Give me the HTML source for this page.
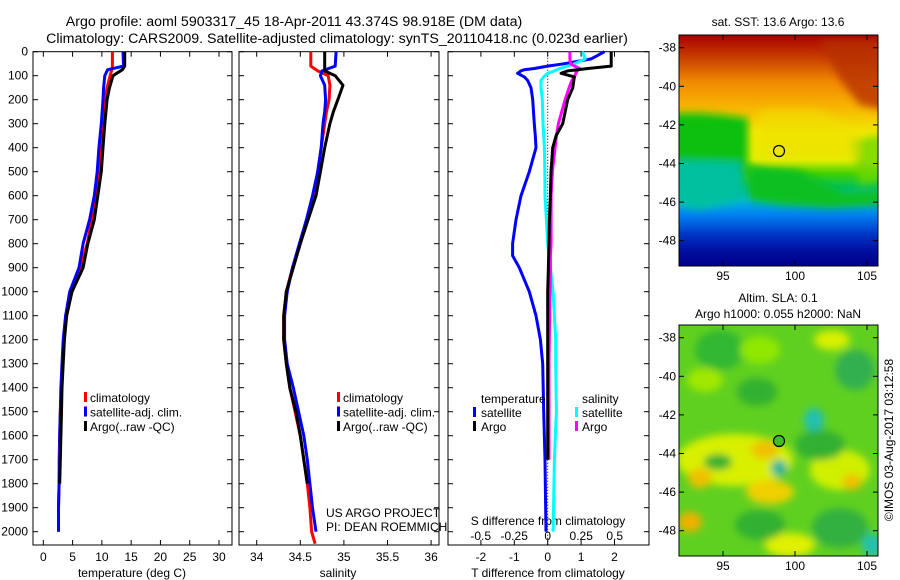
<!DOCTYPE html>
<html><head><meta charset="utf-8"><style>
body{margin:0;background:#fff;}
svg{display:block;font-family:"Liberation Sans",sans-serif;}
text{fill:#000;}
</style></head><body>
<svg id="c" width="900" height="580" viewBox="0 0 900 580">
<defs>
<linearGradient id="sstg" x1="0" y1="0" x2="0" y2="1">
<stop offset="0" stop-color="#a80000"/><stop offset="0.1" stop-color="#c84000"/><stop offset="0.2" stop-color="#f08800"/>
<stop offset="0.32" stop-color="#f8b800"/><stop offset="0.42" stop-color="#f0e800"/><stop offset="0.54" stop-color="#e0f000"/>
<stop offset="0.6" stop-color="#40d000"/><stop offset="0.66" stop-color="#00c060"/><stop offset="0.71" stop-color="#00b8e0"/>
<stop offset="0.78" stop-color="#0080f0"/><stop offset="0.86" stop-color="#0038c8"/><stop offset="0.93" stop-color="#0010a0"/>
<stop offset="1" stop-color="#000088"/></linearGradient>
<filter id="bl" x="-0.2" y="-0.2" width="1.4" height="1.4"><feGaussianBlur stdDeviation="4"/></filter>
<clipPath id="m1"><rect x="679" y="35" width="199" height="231"/></clipPath>
<clipPath id="m2"><rect x="679" y="325" width="199" height="231"/></clipPath>
</defs>
<text x="294" y="26" text-anchor="middle" font-size="14.2">Argo profile: aoml 5903317_45 18-Apr-2011 43.374S 98.918E (DM data)</text>
<text x="337" y="43" text-anchor="middle" font-size="14.2">Climatology: CARS2009. Satellite-adjusted climatology: synTS_20110418.nc (0.023d earlier)</text>
<g id="plots"></g>
<g>
<g clip-path="url(#m1)">
<rect x="679" y="35" width="199" height="231" fill="url(#sstg)"/>
<g filter="url(#bl)">
<path d="M670 113 L700 113 L725 115 L748 118 L748 160 L745 180 L700 190 L670 190Z" fill="#10c010"/>
<path d="M675 160 L740 162 L745 200 L700 210 L675 205Z" fill="#00c0a0"/>
<path d="M748 165 L800 170 L820 182 L845 192 L885 190 L885 205 L830 208 L780 205 L748 200Z" fill="#10c020"/>
<path d="M820 40 L885 40 L885 110 L860 105 L840 80Z" fill="#b83000" opacity="0.8"/>
<path d="M850 140 L885 135 L885 180 L860 185Z" fill="#70d800" opacity="0.8"/>
<path d="M760 110 L820 110 L860 130 L860 160 L760 160Z" fill="#f0e000" opacity="0.6"/>
</g>
</g>
<rect x="679" y="35" width="199" height="231" fill="none" stroke="#000"/>
<circle cx="779" cy="151" r="5.5" fill="none" stroke="#000" stroke-width="1.2"/>
<text x="778" y="26" text-anchor="middle" font-size="12">sat. SST: 13.6 Argo: 13.6</text>
</g>
<g>
<g clip-path="url(#m2)">
<rect x="679" y="325" width="199" height="231" fill="#60d020"/>
<g filter="url(#bl)">
<ellipse cx="720" cy="350" rx="25" ry="20" fill="#30b830"/>
<ellipse cx="757" cy="392" rx="20" ry="14" fill="#30b030"/>
<ellipse cx="760" cy="350" rx="20" ry="14" fill="#90e800"/>
<ellipse cx="832" cy="340" rx="18" ry="10" fill="#d8f000"/>
<ellipse cx="705" cy="380" rx="18" ry="12" fill="#a0e800"/>
<ellipse cx="855" cy="370" rx="20" ry="20" fill="#30b050"/>
<ellipse cx="735" cy="460" rx="58" ry="26" fill="#d8f000"/>
<ellipse cx="765" cy="450" rx="14" ry="9" fill="#f0c000"/>
<ellipse cx="700" cy="478" rx="12" ry="10" fill="#f0c000"/>
<ellipse cx="770" cy="492" rx="24" ry="12" fill="#f0d000"/>
<ellipse cx="840" cy="470" rx="30" ry="20" fill="#d0f000"/>
<ellipse cx="852" cy="482" rx="10" ry="8" fill="#f0c000"/>
<ellipse cx="690" cy="522" rx="12" ry="10" fill="#f0b000"/>
<ellipse cx="790" cy="545" rx="25" ry="12" fill="#e0f000"/>
<ellipse cx="814" cy="420" rx="10" ry="12" fill="#20c0b0"/>
<ellipse cx="779" cy="468" rx="8" ry="8" fill="#20b0a0"/>
<ellipse cx="872" cy="545" rx="10" ry="12" fill="#20c0b0"/>
<ellipse cx="718" cy="462" rx="14" ry="8" fill="#30b030"/>
<ellipse cx="840" cy="528" rx="28" ry="20" fill="#30b040"/>
<ellipse cx="760" cy="525" rx="25" ry="15" fill="#30b030"/>
<ellipse cx="820" cy="445" rx="25" ry="15" fill="#30b030"/>
</g>
</g>
<rect x="679" y="325" width="199" height="231" fill="none" stroke="#000"/>
<circle cx="779" cy="441" r="5.5" fill="#40c020" stroke="#000" stroke-width="1.2"/>
<text x="778" y="302" text-anchor="middle" font-size="12">Altim. SLA: 0.1</text>
<text x="778" y="318" text-anchor="middle" font-size="12">Argo h1000: 0.055 h2000: NaN</text>
</g>
<text transform="translate(893,440) rotate(-90)" text-anchor="middle" font-size="12">©IMOS 03-Aug-2017 03:12:58</text>
<text x="326" y="517" font-size="12">US ARGO PROJECT</text>
<text x="326" y="531" font-size="12">PI: DEAN ROEMMICH</text>
</svg>
<script>
// depth grids (m)
const tDepth = [0,60,75,100,150,200,300,400,500,600,700,800,900,1000,1100,1200,1300,1400,1500,1600,1700,1800,1900,2000];
const tClim  = [11.8,11.8,11.7,11.4,10.9,10.5,10.2,9.9,9.6,9.0,8.3,7.5,6.3,4.8,3.9,3.5,3.3,3.1,2.9,2.8,2.7,2.7,2.6,2.6];
const tSat   = [13.6,13.7,11.0,10.5,10.3,10.2,9.9,9.5,9.2,8.7,7.9,6.8,6.1,4.5,3.8,3.4,3.2,3.0,2.9,2.8,2.8,2.7,2.6,2.6];
const tArgo  = [13.9,13.9,13.5,11.9,11.3,10.9,10.5,10.2,9.9,9.3,8.7,7.6,6.8,4.9,4.0,3.6,3.4,3.2,3.1,3.0,2.9,2.8];
const sDepth = [0,60,80,100,140,200,250,300,400,500,600,700,800,900,1000,1100,1200,1300,1400,1500,1600,1700,1800,1900,2000,2050];
const sClim  = [34.62,34.62,34.70,34.82,34.84,34.83,34.80,34.78,34.74,34.70,34.66,34.58,34.50,34.41,34.34,34.31,34.31,34.34,34.38,34.44,34.50,34.54,34.58,34.61,34.63,34.67];
const sSat   = [34.91,34.90,34.75,34.73,34.78,34.79,34.78,34.76,34.74,34.70,34.64,34.57,34.49,34.41,34.35,34.32,34.32,34.35,34.42,34.48,34.54,34.58,34.61,34.64,34.68];
const sArgo  = [34.78,34.78,34.78,34.90,34.99,34.93,34.88,34.84,34.78,34.73,34.68,34.59,34.50,34.42,34.34,34.31,34.31,34.34,34.38,34.45,34.50,34.54,34.58];
const dDepth = [0,30,50,60,70,75,80,90,105,120,150,200,300,350,400,500,600,700,800,850,900,1000,1100,1200,1300,1500,1700,2000];
const dTsat  = [1.7,1.3,0.5,0.0,-0.4,-0.7,-0.8,-0.9,-0.7,-0.6,-0.5,-0.45,-0.4,-0.37,-0.35,-0.55,-0.8,-0.95,-1.05,-1.05,-0.85,-0.55,-0.35,-0.22,-0.15,-0.12,-0.08,-0.05];
const dTargo = [1.9,1.9,1.9,1.9,1.2,0.9,0.6,0.4,0.8,0.78,0.75,0.6,0.45,0.25,0.15,0.1,0.08,0.05,0.04,0.03,0.02,0.0,0.0,0.0,0.0,0.0,0.0];
const dSsat  = [0.26,0.28,0.2,0.15,0.09,0.07,0.05,0.0,-0.03,-0.05,-0.05,-0.04,-0.035,-0.03,-0.025,-0.022,-0.02,-0.01,0.0,0.01,0.02,0.04,0.05,0.06,0.06,0.065,0.05,0.04];
const dSargo = [0.166,0.166,0.17,0.2,0.24,0.23,0.22,0.21,0.2,0.18,0.16,0.13,0.08,0.065,0.055,0.035,0.025,0.025,0.025,0.02,0.02,0.018,0.015,0.012,0.01,0.01,0.01];
const depthTicks = [0,100,200,300,400,500,600,700,800,900,1000,1100,1200,1300,1400,1500,1600,1700,1800,1900,2000];
const tTicks = [0,5,10,15,20,25,30];
const sTicks = [34,34.5,35,35.5,36];
const dtTicks = [-2,-1,0,1,2];
const dsTicks = [-0.5,-0.25,0,0.25,0.5];
const latTicks = [-38,-40,-42,-44,-46,-48];
const lonTicks = [95,100,105];

const NS='http://www.w3.org/2000/svg';
const G=document.getElementById('plots');
const svg=document.getElementById('c');
function mk(tag,at,parent){const e=document.createElementNS(NS,tag);for(const k in at)e.setAttribute(k,at[k]);(parent||G).appendChild(e);return e;}
const Y0=51.7, YK=0.24, YB=545;
const yD=d=>Y0+d*YK;
const xT=v=>43.3+v*5.857;
const xS=v=>256.7+(v-34)*87.2;
const xDT=v=>547.7+v*33.4;
const xDS=v=>547.7+v*134;
function frame(x0,x1,name){
  const r=mk('rect',{x:x0,y:Y0,width:x1-x0,height:YB-Y0,fill:'none',stroke:'#000'});
  
  
  depthTicks.forEach(d=>{mk('line',{x1:x0,x2:x0+5,y1:yD(d),y2:yD(d),stroke:'#000'});mk('line',{x1:x1-5,x2:x1,y1:yD(d),y2:yD(d),stroke:'#000'});});
}
function line(xs,ds,fx,color,name){
  let p='';
  xs.forEach((v,i)=>{p+=(i?'L':'M')+fx(v).toFixed(1)+' '+yD(ds[i]).toFixed(1);});
  const e=mk('path',{d:p,fill:'none',stroke:color,'stroke-width':3,'stroke-linejoin':'round'});
  
  
}
function txt(x,y,s,anchor,name,size){
  const e=mk('text',{x:x,y:y,'text-anchor':anchor||'start','font-size':size||12});
  e.textContent=s;
  
  
  return e;
}
function xticks(vals,fx,y,name,lblY,labels){
  vals.forEach((v,i)=>{
    const x=fx(v);
    mk('line',{x1:x,x2:x,y1:Y0,y2:Y0+5,stroke:'#000'});
    mk('line',{x1:x,x2:x,y1:YB-5,y2:YB,stroke:'#000'});
    txt(x,lblY,labels?labels[i]:String(v),'middle',name);
  });
}
// panel 1
frame(33,232,'temperature-panel');
depthTicks.forEach(d=>txt(28,yD(d)+4,String(d),'end','depth-tick-label'));
xticks(tTicks,xT,0,'temperature-tick-label',561);
txt(132,577,'temperature (deg C)','middle','temperature-axis-title');
line(tClim,tDepth.slice(0,tClim.length),xT,'#ff0000','temperature-climatology-line');
line(tSat,tDepth.slice(0,tSat.length),xT,'#0000ff','temperature-satellite-line');
line(tArgo,tDepth.slice(0,tArgo.length),xT,'#000000','temperature-argo-line');
// panel 2
frame(239,439,'salinity-panel');
xticks(sTicks,xS,0,'salinity-tick-label',561);
txt(338,577,'salinity','middle','salinity-axis-title');
line(sClim,sDepth.slice(0,sClim.length),xS,'#ff0000','salinity-climatology-line');
line(sSat,sDepth.slice(0,sSat.length),xS,'#0000ff','salinity-satellite-line');
line(sArgo,sDepth.slice(0,sArgo.length),xS,'#000000','salinity-argo-line');
// legends
[[84,'climatology','#ff0000'],[98,'satellite-adj. clim.','#0000ff'],[112,'Argo(..raw -QC)','#000']].forEach((r,i)=>{
  [[84,90],[337,343]].forEach(p=>{
    mk('rect',{x:p[0],y:392+i*14.5,width:3,height:10,fill:r[2]});
    txt(p[1],402+i*14.5,r[1],'start','legend-entry');
  });
});
// panel 3
frame(448,649,'difference-panel');
mk('line',{x1:547.7,x2:547.7,y1:Y0,y2:YB,stroke:'#000','stroke-dasharray':'1,2'});
dtTicks.forEach(v=>{const x=xDT(v);mk('line',{x1:x,x2:x,y1:Y0,y2:Y0+5,stroke:'#000'});mk('line',{x1:x,x2:x,y1:YB-5,y2:YB,stroke:'#000'});txt(x,561,String(v),'middle','t-diff-tick-label');});
dsTicks.forEach(v=>txt(xDS(v),540,String(v),'middle','s-diff-tick-label'));
txt(548,525,'S difference from climatology','middle','s-diff-axis-title');
txt(548,577,'T difference from climatology','middle','t-diff-axis-title');
line(dTsat,dDepth.slice(0,dTsat.length),xDT,'#0000ff','t-diff-satellite-line');
line(dSsat,dDepth.slice(0,dSsat.length),xDS,'#00ffff','s-diff-satellite-line');
line(dSargo,dDepth.slice(0,dSargo.length),xDS,'#ff00ff','s-diff-argo-line');
line(dTargo,dDepth.slice(0,dTargo.length),xDT,'#000000','t-diff-argo-line');
txt(481,403,'temperature','start','legend-title-temperature');
txt(582,403,'salinity','start','legend-title-salinity');
[[0,'satellite','#0000ff','#00ffff'],[1,'Argo','#000','#ff00ff']].forEach(r=>{
  mk('rect',{x:473,y:407+r[0]*14,width:3,height:10,fill:r[2]});
  txt(481,417+r[0]*14,r[1],'start','legend-entry');
  mk('rect',{x:575,y:407+r[0]*14,width:3,height:10,fill:r[3]});
  txt(582,417+r[0]*14,r[1],'start','legend-entry');
});
// map axes
[[35,47.7,280],[325,337.7,570]].forEach(m=>{
  latTicks.forEach((la,i)=>{const y=m[1]+(-38-la)*19.3;
    mk('line',{x1:679,x2:684,y1:y,y2:y,stroke:'#000'},svg);mk('line',{x1:873,x2:878,y1:y,y2:y,stroke:'#000'},svg);
    const t=mk('text',{x:676,y:y+4,'text-anchor':'end','font-size':12},svg);t.textContent=String(la);
    
    });
  lonTicks.forEach(lo=>{const x=723+(lo-95)*14.4;
    mk('line',{x1:x,x2:x,y1:m[0],y2:m[0]+5,stroke:'#000'},svg);mk('line',{x1:x,x2:x,y1:m[0]+226,y2:m[0]+231,stroke:'#000'},svg);
    const t=mk('text',{x:x,y:m[2],'text-anchor':'middle','font-size':12},svg);t.textContent=String(lo);
    
    });
});
</script>
</body></html>
